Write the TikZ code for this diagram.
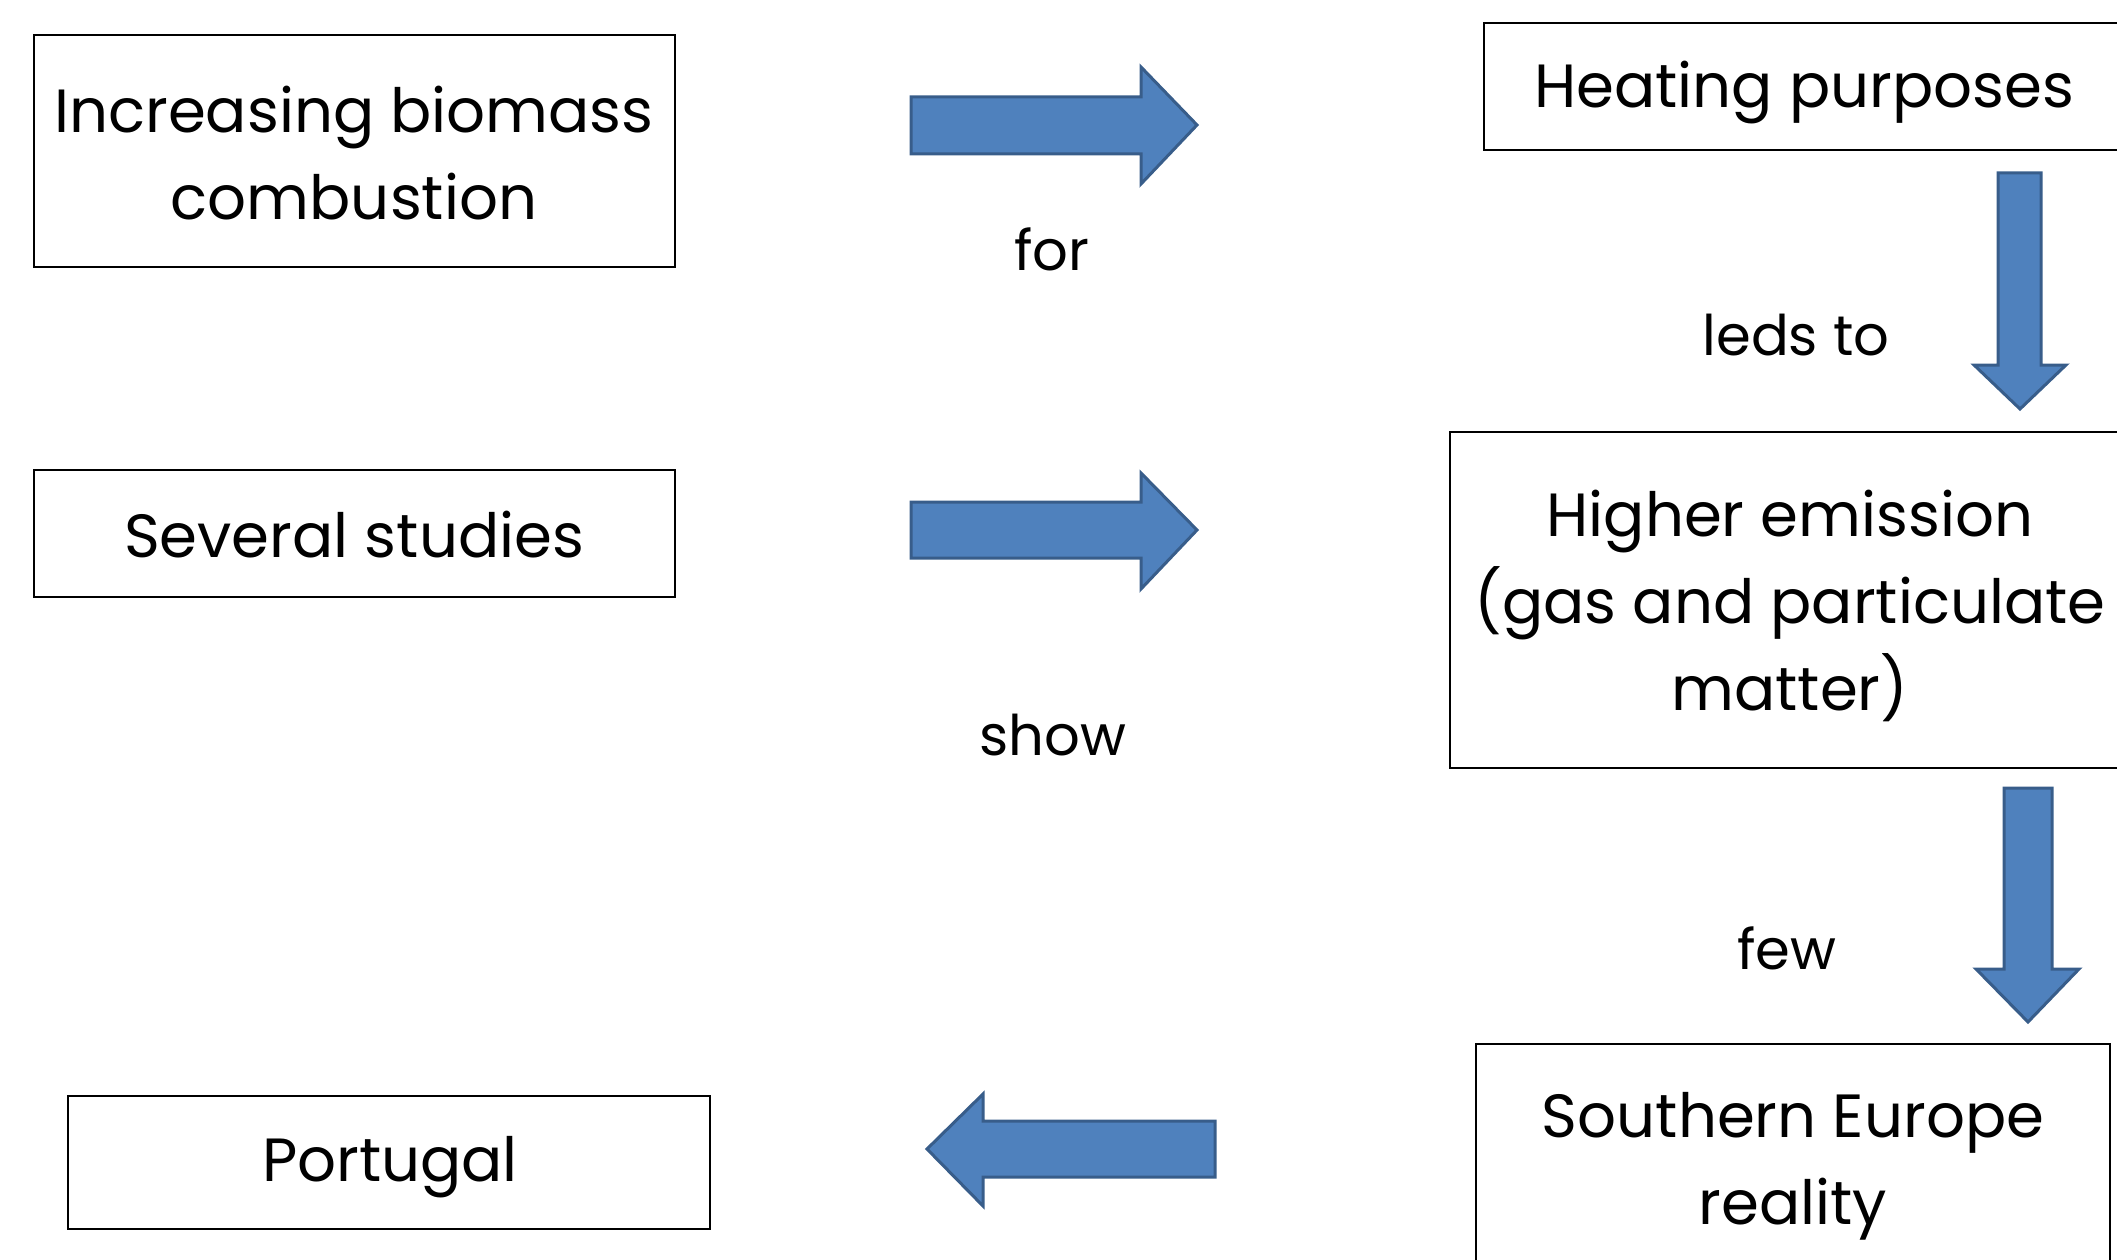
\documentclass[tikz,border=0pt]{standalone}
\usepackage{fontspec}
\setmainfont{Poppins}
\definecolor{arrfill}{HTML}{4F81BD}
\definecolor{arrline}{HTML}{385D8A}
\begin{document}
\begin{tikzpicture}[x=1pt,y=-1pt,
  box/.style={draw=black,line width=2.2pt,fill=white},
  boxtext/.style={align=center,font=\fontsize{61}{87}\selectfont,inner sep=0pt},
  lbl/.style={font=\fontsize{56}{70}\selectfont,inner sep=0pt},
  blockarr/.style={fill=arrfill,draw=arrline,line width=3pt,line join=miter}]
\useasboundingbox (0,0) rectangle (2117,1260);
\clip (0,0) rectangle (2117,1260);
% boxes
\draw[box] (34,35) rectangle (675,267);
\node[boxtext] (inc) at (354,153) {Increasing biomass\\combustion};
\draw[box] (1484,23) rectangle (2140,150);
\node[boxtext] (heat) at (1804,93) {Heating purposes};
\draw[box] (1450,432) rectangle (2140,768);
\node[boxtext] (high) at (1790,606) {Higher emission\\(gas and particulate\\matter)};
\draw[box] (34,470) rectangle (675,597);
\node[boxtext] (sev) at (354,535) {Several studies};
\draw[box] (1476,1044) rectangle (2110,1290);
\node[boxtext] (south) at (1793,1166) {Southern Europe\\reality};
\draw[box] (68,1096) rectangle (710,1229);
\node[boxtext] (port) at (390,1167) {Portugal};
% block arrows
\draw[blockarr] (911,97) -- (1141,97) -- (1141,67) -- (1197,125) -- (1141,184) -- (1141,154) -- (911,154) -- cycle;
\draw[blockarr] (911,502) -- (1141,502) -- (1141,473) -- (1197,530) -- (1141,589) -- (1141,558) -- (911,558) -- cycle;
\draw[blockarr] (1998,173) -- (2041,173) -- (2041,365) -- (2066,365) -- (2020,409) -- (1974,365) -- (1998,365) -- cycle;
\draw[blockarr] (2004,788) -- (2052,788) -- (2052,969) -- (2079,969) -- (2028,1022) -- (1976,969) -- (2004,969) -- cycle;
\draw[blockarr] (1215,1121) -- (983,1121) -- (983,1094) -- (927,1149) -- (983,1206) -- (983,1177) -- (1215,1177) -- cycle;
% labels
\node[lbl] (for) at (1052,249) {for};
\node[lbl] (leds) at (1796,335) {leds to};
\node[lbl] (show) at (1053,735) {show};
\node[lbl] (few) at (1787,948) {few};
\end{tikzpicture}
\end{document}
